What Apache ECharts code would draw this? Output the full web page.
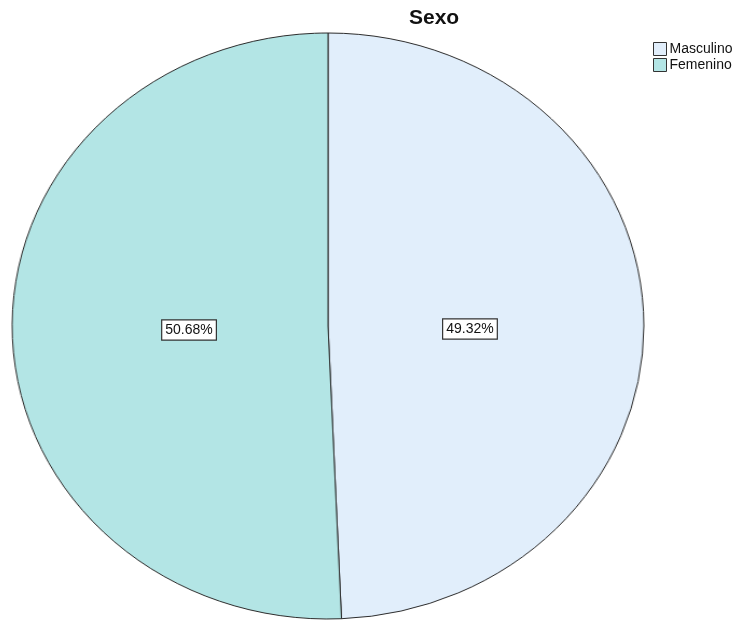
<!DOCTYPE html>
<html>
<head>
<meta charset="utf-8">
<script src="https://cdn.jsdelivr.net/npm/echarts@6/dist/echarts.min.js"></script>
<style>
  html, body { margin: 0; padding: 0; background: #fff; }
  #wrap { position: relative; width: 732px; height: 620px; overflow: hidden; }
  /* SPSS draws the pie a little wider than tall, so stretch it */
  #pie { position: absolute; left: 0; top: 0; width: 732px; height: 620px;
         transform: scaleX(1.078); transform-origin: 328px 326px; }
  #top { position: absolute; left: 0; top: 0; width: 732px; height: 620px; }
</style>
</head>
<body>
<div id="wrap">
  <div id="pie"></div>
  <div id="top"></div>
</div>
<script>
var categories = ['Masculino', 'Femenino']
var percents = [49.32, 50.68]
var colors = ['#e1eefb', '#b3e5e5']

var pieData = categories.map(function (name, i) {
  return { name: name, value: percents[i], itemStyle: { color: colors[i] } }
})

// the pie itself (stretched by css)
var pieChart = echarts.init(document.getElementById('pie'))
pieChart.setOption({
  animation: false,
  series: [
    {
      type: 'pie',
      center: [328, 326],
      radius: 293,
      startAngle: 90,
      clockwise: true,
      silent: true,
      label: { show: false },
      labelLine: { show: false },
      itemStyle: { borderColor: '#2b2b2b', borderWidth: 1 },
      data: pieData
    }
  ]
})

// title, legend and labels, not stretched
var topChart = echarts.init(document.getElementById('top'))
topChart.setOption({
  animation: false,
  title: {
    text: 'Sexo',
    left: 404,
    top: 3,
    textStyle: { fontFamily: 'Liberation Sans', fontSize: 21, fontWeight: 'bold', color: '#111' }
  },
  legend: {
    orient: 'vertical',
    left: 648,
    top: 37,
    itemWidth: 13,
    itemHeight: 13,
    itemGap: 2,
    icon: 'rect',
    data: categories.map(function (name, i) {
      return { name: name, itemStyle: { color: colors[i], opacity: 1, borderColor: '#333', borderWidth: 1 } }
    }),
    textStyle: { fontFamily: 'Liberation Sans', fontSize: 14, color: '#111', padding: [0, 0, 0, -2] }
  },
  series: [
    {
      type: 'pie',
      center: [328, 326],
      radius: 280,
      startAngle: 90,
      clockwise: true,
      silent: true,
      itemStyle: { opacity: 0 },
      label: {
        show: true,
        position: 'inside',
        formatter: function (p) { return p.value.toFixed(2) + '%' },
        fontFamily: 'Liberation Sans',
        fontSize: 14,
        color: '#111',
        backgroundColor: '#fff',
        borderColor: '#333',
        borderWidth: 1.2,
        padding: [3, 3, 2, 3],
        opacity: 1
      },
      // SPSS puts both boxes on the same row, a bit under the centre
      labelLayout: function (p) {
        return p.dataIndex === 0 ? { dx: -1, dy: 6 } : { dx: 4, dy: 1 }
      },
      labelLine: { show: false },
      data: pieData
    }
  ]
})
</script>
</body>
</html>
